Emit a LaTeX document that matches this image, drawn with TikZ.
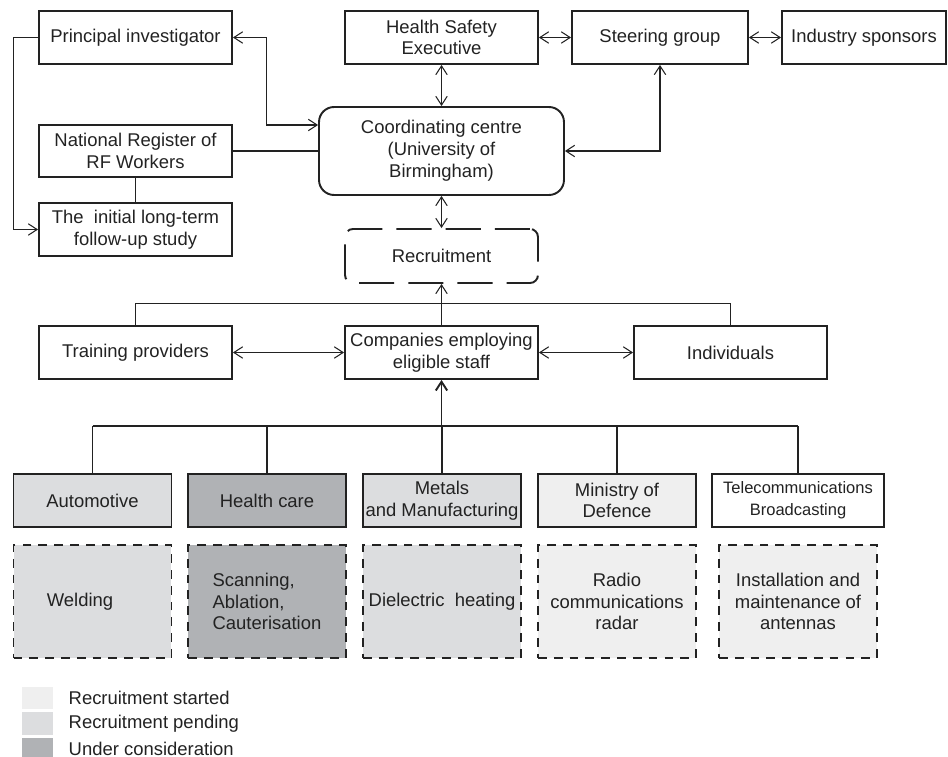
\documentclass[tikz,border=0pt]{standalone}
\usepackage{fontspec}
\setmainfont{Liberation Sans}
\usepackage{tikz}
\usetikzlibrary{arrows.meta, positioning, calc}

\definecolor{started}{HTML}{EFEFEF}
\definecolor{pending}{HTML}{DCDDDF}
\definecolor{considered}{HTML}{B0B2B5}
\definecolor{ink}{HTML}{222222}

\begin{document}
\begin{tikzpicture}
[
    x=0.02cm, y=-0.02cm,
    every node/.style={text=ink, font=\fontsize{10.5}{12.4}\selectfont},
    box/.style={
        draw=ink,
        line width=1.1pt,
        rectangle,
        minimum width=3.86cm,
        minimum height=1.06cm,
        inner sep=1pt,
        align=center,
    },
    roundbox/.style={box, rounded corners=0.3cm, minimum width=4.9cm, minimum height=1.76cm},
    dashbox/.style={box, rounded corners=0.16cm, dash pattern=on 20pt off 8pt, minimum height=1.08cm},
    sector/.style={box, minimum width=3.16cm},
    activity/.style={box, minimum width=3.16cm, minimum height=2.26cm, dash pattern=on 5pt off 4pt},
    legbox/.style={rectangle, minimum width=0.62cm, minimum height=0.45cm, inner sep=0pt},
    legtext/.style={inner sep=0pt, anchor=west},
    link/.style={draw=ink, line width=0.6pt},
    arrow/.style={link, -{Straight Barb[length=5pt, width=6.5pt]}},
    biarrow/.style={link, {Straight Barb[length=5pt, width=6.5pt]}-{Straight Barb[length=5pt, width=6.5pt]}}
]
\useasboundingbox (0,0) rectangle (948,757);

% Top row
\node[box] (pi) at (135.5,37.5) {Principal investigator};
\node[box] (hse) at (441.5,37.5) {Health Safety\\Executive};
\node[box, minimum width=3.52cm] (steer) at (660,37.5) {Steering group};
\node[box, minimum width=3.28cm] (indus) at (864,37.5) {Industry sponsors};

% Centre and register
\node[roundbox] (coord) at (441.5,151) {Coordinating centre\\(University of\\Birmingham)};
\node[box, minimum height=1.04cm] (nr) at (135.5,151) {National Register of\\RF Workers};
\node[box] (init) at (135.5,229.5) {The~ initial long-term\\follow-up study};
\node[dashbox] (recr) at (441.5,256) {Recruitment};

% Recruitment sources
\node[box] (train) at (135.5,352.5) {Training providers};
\node[box] (comp) at (441.5,352.5) {Companies employing\\eligible staff};
\node[box] (indiv) at (730.5,352.5) {Individuals};
\coordinate (bus) at (441.5,426);

% Sectors
\node[sector, fill=pending] (auto) at (92.5,500.5) {Automotive};
\node[sector, fill=considered] (hc) at (267,500.5) {Health care};
\node[sector, fill=pending] (met) at (442,500.5) {Metals\\and Manufacturing};
\node[sector, fill=started] (mod) at (617,500.5) {Ministry of\\Defence};
\node[sector, minimum width=3.44cm, fill=white, font=\fontsize{9.4}{12.4}\selectfont] (tel) at (798,500.5) {Telecommunications\\Broadcasting};

% Exposures
\node[activity, fill=pending] (weld) at (92.5,601.5) {Welding\hspace*{0.5cm}};
\node[activity, fill=considered, align=left] (scan) at (267,601.5) {Scanning,\\Ablation,\\Cauterisation};
\node[activity, fill=pending] (diel) at (442,601.5) {Dielectric~ heating};
\node[activity, fill=started] (radio) at (617,601.5) {Radio\\communications\\radar};
\node[activity, fill=started] (ant) at (798,601.5) {Installation and\\maintenance of\\antennas};

% Legend
\node[legbox, fill=started] (lg1) at (37.5,698) {};
\node[legbox, fill=pending] (lg2) at (37.5,723.5) {};
\node[legbox, fill=considered] (lg3) at (37.5,749) {};
\node[legtext, right=0.3cm of lg1] (lt1) {Recruitment started};
\node[legtext, right=0.3cm of lg2] (lt2) {Recruitment pending};
\node[legtext, right=0.3cm of lg3] (lt3) {Under consideration};

% Governance arrows
\draw[biarrow] (pi.east) -- ++(34,0) |- ($(coord.west)+(0,-26)$);
\draw[arrow] (pi.west) -- ++(-25,0) |- (init.west);
\draw[link, line width=1.1pt] (nr.east) -- (coord.west);
\draw[link, line width=1.1pt] (nr.south) -- (init.north);
\draw[biarrow] (hse.south) -- (coord.north);
\draw[biarrow] (hse.east) -- (steer.west);
\draw[biarrow] (steer.east) -- (indus.west);
\draw[biarrow] (steer.south) |- (coord.east);
\draw[biarrow] (coord.south) -- (recr.north);

% Recruitment arrows
\draw[arrow] (comp.north) -- (recr.south);
\draw[link] (train.north) -- ++(0,-22) -| (indiv.north);
\draw[biarrow] (train.east) -- (comp.west);
\draw[biarrow] (comp.east) -- (indiv.west);

% Sector bus
\draw[link] (auto.north |- bus) -- (tel.north |- bus);
\foreach \s in {auto, met, tel}
    \draw[link] (\s.north) -- (\s.north |- bus);
\foreach \s in {hc, mod}
    \draw[link, line width=1.1pt] (\s.north) -- (\s.north |- bus);
\draw[link, line width=1.1pt] (hc.north |- bus) -- (mod.north |- bus);
\draw[arrow, line width=1.1pt] (bus) -- (comp.south);

\end{tikzpicture}
\end{document}
